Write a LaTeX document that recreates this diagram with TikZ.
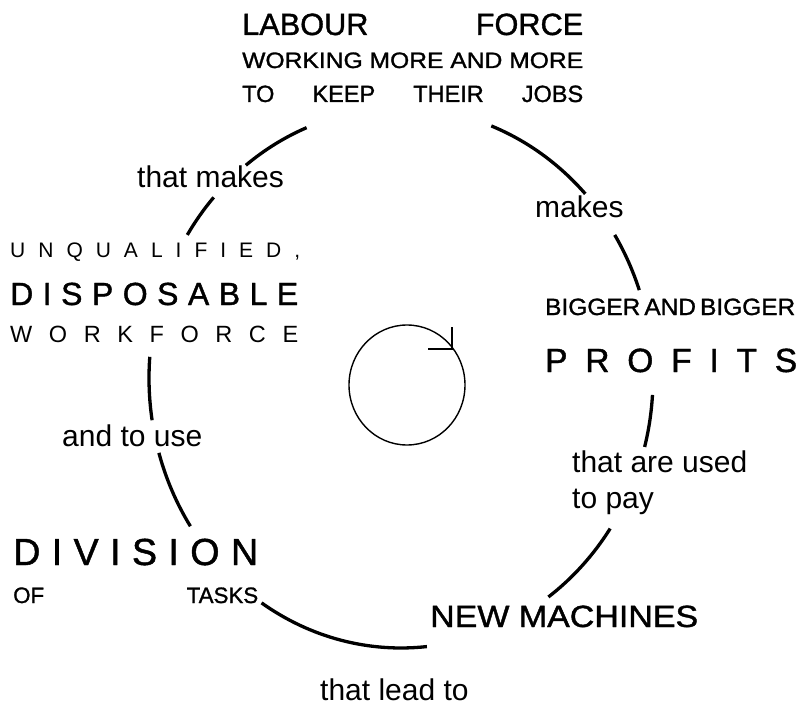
\documentclass[tikz,border=0pt]{standalone}
\usepackage{fontspec}
\usepackage{graphicx}
\setmainfont{Liberation Sans}
\newfontfamily\medfont{Liberation Sans}[FakeBold=1.2]
\newcommand{\fsz}[1]{\fontsize{#1}{#1}\selectfont}
\newcommand{\fitto}[2]{\resizebox{#1}{\height}{#2}}

\begin{document}
\begin{tikzpicture}[x=1pt,y=-1pt,
  lbl/.style={inner sep=0pt,anchor=base west},
  loopseg/.style={line width=3.3pt},
  cyc/.style={line width=1.4pt}]
\useasboundingbox (0,0) rectangle (801,706);
% labels
\node[lbl] (labour) at (242,35) {\fsz{30.7}\medfont\makebox[341pt][s]{LABOUR\hfill FORCE}};
\node[lbl] (working) at (242,68) {\fsz{22.3}\medfont\fitto{341pt}{WORKING MORE AND MORE}};
\node[lbl] (keep) at (242,102) {\fsz{23.5}\medfont\makebox[341pt][s]{TO\hfill KEEP\hfill THEIR\hfill JOBS}};
\node[lbl] (makesl) at (137,188) {\fsz{30}that makes};
\node[lbl] (makesr) at (535,218) {\fsz{30}makes};
\node[lbl] (unq) at (10,257) {\fsz{21}\makebox[290pt][s]{U\hfill N\hfill Q\hfill U\hfill A\hfill L\hfill I\hfill F\hfill I\hfill E\hfill D\hfill ,}};
\node[lbl] (disp) at (10,305) {\fsz{32}\medfont\makebox[288pt][s]{D\hfill I\hfill S\hfill P\hfill O\hfill S\hfill A\hfill B\hfill L\hfill E}};
\node[lbl] (workf) at (10,342) {\fsz{23.5}\makebox[288pt][s]{W\hfill O\hfill R\hfill K\hfill F\hfill O\hfill R\hfill C\hfill E}};
\node[lbl] (bigger) at (545,315) {\fsz{23.5}\medfont\fitto{250pt}{BIGGER\,AND\,BIGGER}};
\node[lbl] (profits) at (545,372) {\fsz{33.5}\medfont\makebox[252pt][s]{P\hfill R\hfill O\hfill F\hfill I\hfill T\hfill S}};
\node[lbl] (used) at (572,472) {\fsz{30}that are used};
\node[lbl] (pay) at (572,508) {\fsz{30}to pay};
\node[lbl] (touse) at (62,446) {\fsz{30}and to use};
\node[lbl] (division) at (13,565) {\fsz{37.7}\medfont\makebox[245pt][s]{D\hfill I\hfill V\hfill I\hfill S\hfill I\hfill O\hfill N}};
\node[lbl] (tasks) at (13,603) {\fsz{22.3}\medfont\makebox[245pt][s]{OF\hfill TASKS}};
\node[lbl] (machines) at (430,627) {\fsz{30.7}\medfont\fitto{268pt}{NEW MACHINES}};
\node[lbl] (lead) at (320,700) {\fsz{30}that lead to};
% big loop, broken at the labels
\coordinate (c) at (401,378);
\foreach \a/\b in {232/248, 212/222, 291/317, 328/341, 3.6/14.8, 33.9/54.2, 84.1/123.6, 146.7/163.9, 171/184.5}
  \draw[loopseg] (c) ++(\a:252 and 270) arc[start angle=\a, end angle=\b, x radius=252, y radius=270];
% small cycle sign
\coordinate (tip) at (452,349);
\draw[cyc] (407,385) ellipse[x radius=58, y radius=60];
\draw[cyc] (428,349) -- (tip) -- (452,327);
\end{tikzpicture}
\end{document}
